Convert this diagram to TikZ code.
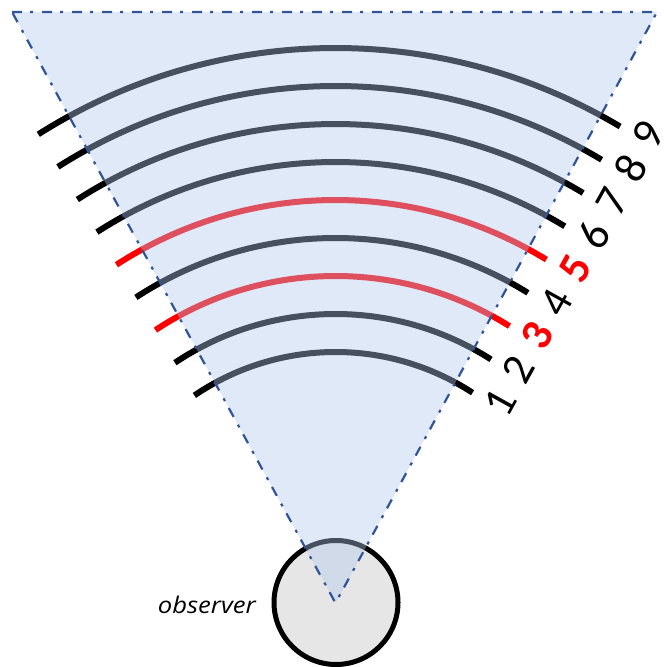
\documentclass[tikz,border=0pt]{standalone}
\usepackage{fontspec}
\setmainfont{Carlito}
\newfontfamily\obsfont{Open Sans}
\definecolor{fovblue}{RGB}{175,200,237}
\definecolor{edgeblue}{RGB}{47,85,151}
\definecolor{obsgray}{RGB}{230,230,230}
\begin{document}
\begin{tikzpicture}[x=1bp,y=1bp]
\tikzset{
  wave/.style={line width=6bp},
  lbl/.style={rotate=61, inner sep=0, font=\fontsize{45}{48}\selectfont},
  redlbl/.style={lbl, text=red, font=\fontsize{45}{48}\selectfont\bfseries},
  fov/.style={fill=fovblue, fill opacity=0.4},
  fovedge/.style={draw=edgeblue, line width=2.2bp, dash pattern=on 10bp off 8bp on 3bp off 9bp},
  observer/.style={circle, draw=black, line width=5bp, fill=obsgray, minimum size=124bp, inner sep=0},
  obslabel/.style={inner sep=0, anchor=base east, font=\obsfont\itshape\fontsize{23}{26}\selectfont}
}
\useasboundingbox (0,0) rectangle (665,667);
\coordinate (A) at (335.5,64);
\coordinate (TL) at (12,655);
\coordinate (TR) at (657,655);
% arcs
\foreach \r/\a/\b/\c in {251/124.2/56.9/black, 289/123.76/57.44/black, 327/123.42/57.85/red,
  365/123.15/58.18/black, 403/122.93/58.45/red, 441/122.75/58.67/black,
  479/122.61/58.87/black, 517/122.48/59.02/black, 555/122.38/59.15/black}{
  \draw[wave, \c] (A) ++(\a:\r) arc[start angle=\a, end angle=\b, radius=\r];
}
% observer
\node[observer] (obs) at (336,64.5) {};
\node[obslabel] (obstext) at (256,53) {\scalebox{1.12}[1]{observer}};
% field of view
\fill[fov] (A) -- (TL) -- (TR) -- cycle;
\draw[fovedge] (TL) -- (TR) -- (A) -- (TL);
% labels
\node[lbl] (n1) at (500,264) {1};
\node[lbl] (n2) at (518.75,297.5) {2};
\node[redlbl] (n3) at (537.5,331) {3};
\node[lbl] (n4) at (556,364.5) {4};
\node[redlbl] (n5) at (575,398) {5};
\node[lbl] (n6) at (594,431.5) {6};
\node[lbl] (n7) at (612.5,465) {7};
\node[lbl] (n8) at (631,498.5) {8};
\node[lbl] (n9) at (648,532) {9};
\end{tikzpicture}
\end{document}
